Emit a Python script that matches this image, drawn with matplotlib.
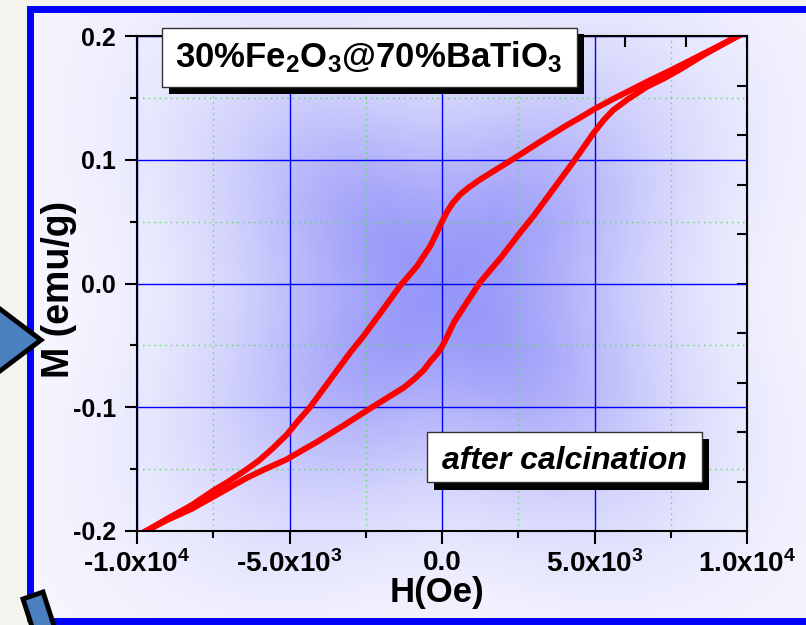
import numpy as np
import matplotlib
matplotlib.use("Agg")
import matplotlib.pyplot as plt
from matplotlib.patches import Rectangle, Polygon
from matplotlib.ticker import MultipleLocator

# descending branch: +Hmax -> -Hmax
h_down = [9700, 9000, 8200, 7475, 6800, 6164, 5600, 5000, 4525, 4098, 3246,
          2360, 1705, 1246, 900, 600, 350, 164, 0, -230, -393, -820, -1377,
          -1934, -2590, -3016, -3672, -4328, -4754, -5082, -5541, -6000,
          -6393, -7000, -7475, -8200, -9000, -9700]
m_down = [0.200, 0.191, 0.181, 0.172, 0.164, 0.156, 0.149, 0.141, 0.134, 0.128,
          0.115, 0.101, 0.091, 0.084, 0.078, 0.072, 0.065, 0.058, 0.050, 0.038,
          0.030, 0.014, -0.002, -0.021, -0.043, -0.056, -0.078, -0.100, -0.112,
          -0.122, -0.133, -0.143, -0.150, -0.160, -0.167, -0.179, -0.190, -0.200]

# ascending branch: -Hmax -> +Hmax
h_up = [-9700, -9000, -8200, -7475, -6900, -6393, -5800, -5082, -4525, -4098,
        -3246, -2360, -1705, -1246, -900, -600, -350, -164, 0, 164, 400, 689,
        1246, 1934, 2557, 3016, 3672, 4328, 4754, 4951, 5300, 5607, 6100, 6721,
        7300, 7803, 8600, 9700]
m_up = [-0.200, -0.191, -0.182, -0.172, -0.164, -0.157, -0.150, -0.142, -0.134,
        -0.128, -0.115, -0.101, -0.091, -0.084, -0.077, -0.070, -0.062, -0.057,
        -0.051, -0.043, -0.031, -0.020, 0.001, 0.021, 0.041, 0.055, 0.077,
        0.099, 0.114, 0.121, 0.132, 0.140, 0.149, 0.159, 0.166, 0.173, 0.185,
        0.200]

x_ticks = [-1e4, -5e3, 0, 5e3, 1e4]
x_labels = ["-1.0x10$^{4}$", "-5.0x10$^{3}$", "0.0", "5.0x10$^{3}$", "1.0x10$^{4}$"]
y_ticks = [-0.2, -0.1, 0.0, 0.1, 0.2]
y_labels = ["-0.2", "-0.1", "0.0", "0.1", "0.2"]

sample_text = "30%Fe$_{2}$O$_{3}$@70%BaTiO$_{3}$"
note_text = "after calcination"

plt.rcParams["font.family"] = "Liberation Sans"
plt.rcParams["font.weight"] = "bold"
plt.rcParams["mathtext.fontset"] = "custom"
plt.rcParams["mathtext.rm"] = "Liberation Sans:bold"
plt.rcParams["mathtext.bf"] = "Liberation Sans:bold"
plt.rcParams["mathtext.it"] = "Liberation Sans:bold:italic"
plt.rcParams["mathtext.default"] = "rm"

W, H = 806, 625


def fig_box(x0, y0, x1, y1):
    # pixel box (top-left origin) -> figure fraction rect
    return [x0 / W, 1 - y1 / H, (x1 - x0) / W, (y1 - y0) / H]


def px(x, y):
    return (x / W, 1 - y / H)


fig = plt.figure(figsize=(W / 100, H / 100), dpi=100)
fig.patch.set_facecolor("#f5f3ee")

# soft blue background shading
bg = fig.add_axes(fig_box(33, 13, 806, 617))
bg.axis("off")
gx, gy = np.meshgrid(np.arange(33, 806) + 0.5, np.arange(13, 617) + 0.5)
dx, dy = gx - 442, gy - 290
core = np.exp(-((dx / 150) ** 2 + (dy / 140) ** 2) / 2)
theta = np.arctan2(dy, dx)
lobes = np.sin(2 * theta) ** 2 * np.exp(-((dx / 230) ** 2 + (dy / 200) ** 2) / 2)
shade = np.clip(0.72 * core + 0.38 * lobes * (1 - core) + 0.015, 0, 1)
light = np.array([0.985, 0.985, 1.0])
dark = np.array([0.45, 0.45, 0.97])
img = light * (1 - shade[..., None]) + dark * shade[..., None]
bg.imshow(img, aspect="auto", extent=[0, 1, 0, 1], interpolation="bilinear")
bg.set_xlim(0, 1)
bg.set_ylim(0, 1)

ax = fig.add_axes(fig_box(137, 36, 747, 531))
ax.set_facecolor("none")
ax.plot(h_down, m_down, color="#ff0000", lw=4.3, solid_joinstyle="round")
ax.plot(h_up, m_up, color="#ff0000", lw=4.3, solid_joinstyle="round")

ax.set_xlim(-1e4, 1e4)
ax.set_ylim(-0.2, 0.2)
ax.set_xticks(x_ticks, x_labels)
ax.set_yticks(y_ticks, y_labels)
ax.xaxis.set_minor_locator(MultipleLocator(2500))
ax.yaxis.set_minor_locator(MultipleLocator(0.05))
ax.tick_params(which="major", direction="out", length=9, width=1.5,
               top=False, right=False)
ax.tick_params(which="minor", direction="out", length=5, width=1.5,
               top=False, right=False)
ax.tick_params(axis="x", pad=5, labelsize=20)
ax.tick_params(axis="y", pad=6, labelsize=18)
ax.set_axisbelow(True)
ax.grid(which="major", color="#0000ff", lw=1.0, ls="-")
ax.grid(which="minor", color="#55dd55", lw=1.0, ls=(0, (1, 3)))
for s in ax.spines.values():
    s.set_linewidth(1.5)
    s.set_color("black")

top = ax.secondary_xaxis("top")
top.xaxis.set_major_locator(MultipleLocator(2000))
top.tick_params(direction="in", length=8, width=1.5, labeltop=False)
right = ax.secondary_yaxis("right")
right.yaxis.set_major_locator(MultipleLocator(0.04))
right.tick_params(direction="in", length=7, width=1.5, labelright=False)

ax.set_xlabel("H(Oe)", fontsize=25, fontweight="bold")
ax.xaxis.set_label_coords((437 - 137) / 610, -(576 - 531) / 495)
ax.set_ylabel("M (emu/g)", fontsize=27, fontweight="bold")
ax.yaxis.set_label_coords(-(137 - 77) / 610, (531 - 289) / 495)

# sample name box with drop shadow
fig.add_artist(Rectangle(px(169, 94), 415 / W, 60 / H, transform=fig.transFigure,
                         facecolor="black", edgecolor="none", zorder=5))
fig.add_artist(Rectangle(px(162, 87), 415 / W, 59 / H, transform=fig.transFigure,
                         facecolor="white", edgecolor="#333333", lw=1, zorder=6))
fig.text(*px(369, 67), sample_text, fontsize=25, fontweight="bold",
         ha="center", va="baseline", zorder=7)

# note box with drop shadow
fig.add_artist(Rectangle(px(434, 490), 275 / W, 51 / H, transform=fig.transFigure,
                         facecolor="black", edgecolor="none", zorder=5))
fig.add_artist(Rectangle(px(427, 482), 275 / W, 50 / H, transform=fig.transFigure,
                         facecolor="white", edgecolor="#333333", lw=1, zorder=6))
fig.text(*px(564, 469), note_text, fontsize=23, fontweight="bold", style="italic",
         ha="center", va="baseline", zorder=7)

# blue frame
fig.add_artist(Rectangle(px(29.5, 621), 840 / W, 612 / H, transform=fig.transFigure,
                         facecolor="none", edgecolor="#0000ff", lw=5.0, zorder=8))

# slide decorations at the left edge
fig.add_artist(Polygon([px(-12, 300), px(41, 340), px(-12, 380)], closed=True,
                       transform=fig.transFigure, facecolor="#4a7fc0",
                       edgecolor="black", lw=3.5, zorder=9))
fig.add_artist(Polygon([px(23, 599), px(43, 592), px(56, 632), px(36, 639)],
                       closed=True, transform=fig.transFigure, facecolor="#4a7fc0",
                       edgecolor="black", lw=3.5, zorder=9))

fig.savefig("out.png", dpi=100, facecolor=fig.get_facecolor())
